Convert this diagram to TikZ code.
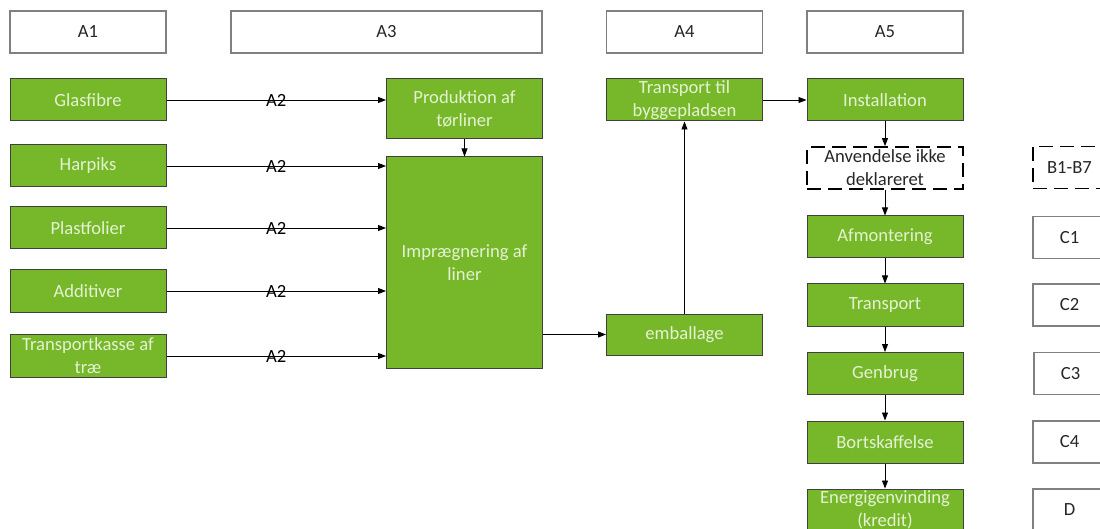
\documentclass[tikz,border=0pt]{standalone}
\usepackage{fontspec}
\setmainfont{Carlito}
\usetikzlibrary{arrows.meta}
\definecolor{leafgreen}{HTML}{76B82A}
\definecolor{paletext}{HTML}{E4F2D2}
\begin{document}
\begin{tikzpicture}[x=1pt, y=-1pt, >={Triangle[length=8pt,width=6pt]}, line width=0.9pt]
	\tikzstyle{every node} = [font=\fontsize{18.6}{23}\selectfont, inner sep=0pt, align=center]
	\tikzstyle{module} = [rectangle, minimum width=156pt, minimum height=42pt]
	\tikzstyle{stage} = [module, draw=black!50, line width=1.3pt, fill=white, text=black!85]
	\tikzstyle{process} = [module, draw=black!75, line width=1pt, fill=leafgreen, text=paletext]
	\tikzstyle{undeclared} = [module, draw=black, line width=1.8pt, dash pattern=on 14pt off 7pt, text=black!85]
	\tikzstyle{sidestage} = [stage, minimum width=73pt]
	\clip (0,0) rectangle (1100,529);
	\node[stage] (A1) at (88,32) {A1};
	\node[stage, minimum width=311pt] (A3) at (386.5,32) {A3};
	\node[stage] (A4) at (684.5,32) {A4};
	\node[stage] (A5) at (885,32) {A5};
	\node[process] (Glasfibre) at (88,100) {Glasfibre};
	\node[process] (Harpiks) at (88,166) {Harpiks};
	\node[process] (Plastfolier) at (88,228) {Plastfolier};
	\node[process] (Additiver) at (88,291) {Additiver};
	\node[process, minimum height=43pt] (Transportkasse) at (88,356) {Transportkasse af\\træ};
	\node[process, minimum height=60pt] (Produktion) at (464.5,109) {Produktion af\\tørliner};
	\node[process, minimum height=211pt] (Impraegnering) at (464.5,262.5) {Imprægnering af\\liner};
	\node[process] (TransportTil) at (684.5,100) {Transport til\\byggepladsen};
	\node[process, minimum height=41pt] (Emballage) at (684.5,334.5) {emballage};
	\node[process] (Installation) at (885,100) {Installation};
	\node[undeclared] (Anvendelse) at (885,168) {Anvendelse ikke\\deklareret};
	\node[process] (Afmontering) at (885,237) {Afmontering};
	\node[process] (TransportC) at (885,305) {Transport};
	\node[process] (Genbrug) at (885,373.5) {Genbrug};
	\node[process] (Bortskaffelse) at (885,442) {Bortskaffelse};
	\node[process] (Energi) at (885,510) {Energigenvinding\\(kredit)};
	\node[undeclared, minimum width=73pt] (B) at (1069.5,167.5) {B1-B7};
	\node[sidestage] (C1) at (1069.5,237.5) {C1};
	\node[sidestage] (C2) at (1069.5,305) {C2};
	\node[sidestage] (C3) at (1070.5,373.5) {C3};
	\node[sidestage] (C4) at (1069.5,442) {C4};
	\node[sidestage] (D) at (1069.5,510) {D};
	\draw [->] (Glasfibre) -- node {A2} (Glasfibre -| Produktion.west);
	\foreach \src in {Harpiks, Plastfolier, Additiver, Transportkasse}
		\draw [->] (\src) -- node {A2} (\src -| Impraegnering.west);
	\draw [->] (Produktion) -- (Impraegnering);
	\draw [->] (Impraegnering.east |- Emballage) -- (Emballage);
	\draw [->] (Emballage) -- (TransportTil);
	\draw [->] (TransportTil) -- (Installation);
	\foreach \a/\b in {Installation/Anvendelse, Anvendelse/Afmontering, Afmontering/TransportC, TransportC/Genbrug, Genbrug/Bortskaffelse, Bortskaffelse/Energi}
		\draw [->] (\a) -- (\b);
\end{tikzpicture}
\end{document}
